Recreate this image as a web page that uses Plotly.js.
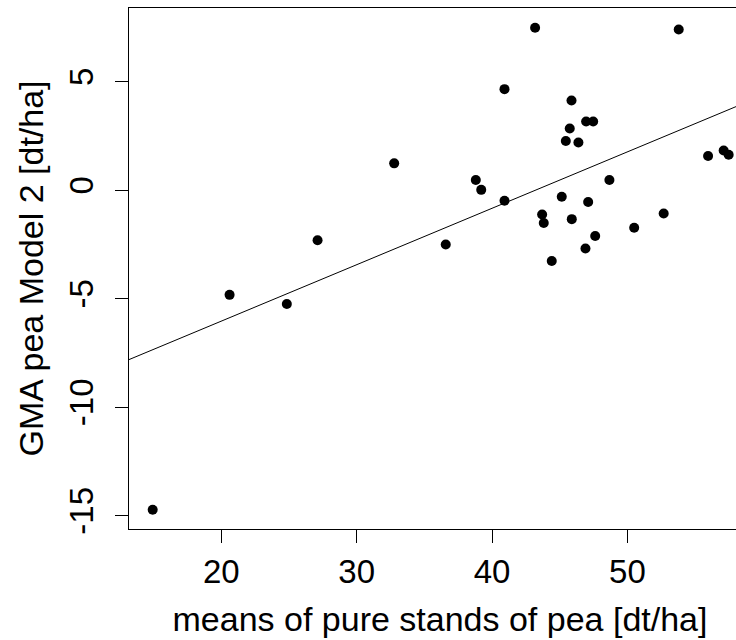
<!DOCTYPE html>
<html><head><meta charset="utf-8">
<script src="https://cdn.plot.ly/plotly-3.0.1.min.js"></script>
<style>html,body{margin:0;padding:0;overflow:hidden;background:#fff;width:736px;height:640px}#chart{width:800px;height:640px}</style>
</head><body><div id="chart"></div>
<script>
const peaMeans = [14.93, 20.61, 24.84, 27.11, 32.77, 36.58, 38.8, 39.2, 40.92, 40.92, 43.18, 43.70, 43.82, 44.41, 45.15, 45.45, 45.74, 45.87, 45.89, 46.38, 46.90, 46.95, 47.10, 47.47, 47.62, 48.67, 50.50, 52.68, 53.79, 55.96, 57.11, 57.48];
const gmaModel2 = [-14.72, -4.82, -5.24, -2.30, 1.24, -2.50, 0.47, 0.02, 4.66, -0.48, 7.49, -1.12, -1.51, -3.26, -0.30, 2.27, 2.85, 4.14, -1.33, 2.20, -2.68, 3.17, -0.54, 3.17, -2.11, 0.47, -1.73, -1.07, 7.41, 1.58, 1.83, 1.64];
const xTickVals = [20, 30, 40, 50];
const yTickVals = [-15, -10, -5, 0, 5];
const yTickText = ["-15", "-10", "-5", "0", "5"];
const fitIntercept = -11.23;
const fitSlope = 0.26;
const xRange = [13.18, 59.13];
const yRange = [-15.61, 8.40];

const FONT = 'Liberation Sans, Arial, sans-serif';
const fitX = xRange.slice();
const fitY = fitX.map(v => fitIntercept + fitSlope * v);

const traces = [
  {x: fitX, y: fitY, mode: 'lines', type: 'scatter', line: {color: '#000', width: 1}, hoverinfo: 'skip', showlegend: false},
  {x: peaMeans, y: gmaModel2, mode: 'markers', type: 'scatter', marker: {color: '#000', size: 10}, showlegend: false}
];

const axisBase = {
  ticks: 'outside', ticklen: 13, tickwidth: 1, tickcolor: '#000',
  showline: true, linecolor: '#000', linewidth: 1, mirror: true,
  showgrid: false, zeroline: false, automargin: false,
  tickfont: {family: FONT, size: 33, color: '#000'}
};

const layout = {
  width: 800, height: 640,
  margin: {l: 129, r: 49, t: 8, b: 111},
  paper_bgcolor: '#fff', plot_bgcolor: '#fff',
  showlegend: false,
  font: {family: FONT, color: '#000'},
  xaxis: Object.assign({}, axisBase, {
    range: xRange, tickmode: 'array', tickvals: xTickVals,
    title: {text: 'means of pure stands of pea [dt/ha]', font: {family: FONT, size: 34, color: '#000'}, standoff: 18}
  }),
  yaxis: Object.assign({}, axisBase, {
    range: yRange, tickmode: 'array', tickvals: yTickVals, ticktext: yTickText, tickangle: -90,
    ticklabelstandoff: 9,
    title: {text: 'GMA pea Model 2 [dt/ha]', font: {family: FONT, size: 34, color: '#000'}, standoff: 8}
  })
};

Plotly.newPlot('chart', traces, layout, {staticPlot: true, displayModeBar: false});
</script>
</body></html>
